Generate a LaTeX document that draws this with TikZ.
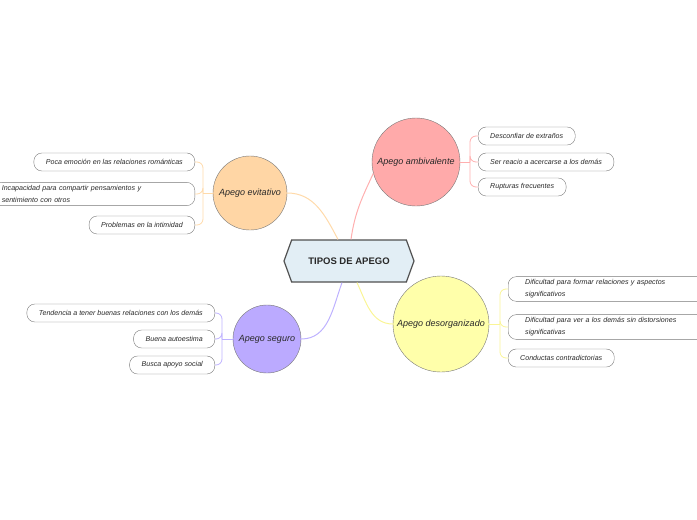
\documentclass[tikz,border=0pt]{standalone}
\usepackage{fontspec}
\setmainfont{Liberation Sans}
\usepackage{tikz}
\usetikzlibrary{shapes.symbols, calc}
\definecolor{hexfill}{RGB}{226, 238, 245}
\definecolor{hexdraw}{RGB}{80, 80, 80}
\definecolor{evfill}{RGB}{255, 214, 165}
\definecolor{evline}{RGB}{255, 218, 170}
\definecolor{amfill}{RGB}{255, 170, 170}
\definecolor{amline}{RGB}{255, 175, 175}
\definecolor{defill}{RGB}{255, 255, 170}
\definecolor{deline}{RGB}{250, 245, 150}
\definecolor{sefill}{RGB}{187, 170, 255}
\definecolor{seline}{RGB}{190, 178, 255}
\definecolor{leafgray}{RGB}{120, 120, 120}
\definecolor{txt}{RGB}{40, 40, 40}

\begin{document}
\begin{tikzpicture}[x=1pt, y=1pt,
  leaf/.style={draw=leafgray, rounded corners=8pt, minimum height=18pt,
    inner xsep=12pt, inner ysep=3pt, text=txt,
    font=\fontsize{7.1}{12}\selectfont\itshape},
  topic/.style={circle, draw=leafgray, text=txt, inner sep=0pt,
    font=\fontsize{9}{10}\selectfont\itshape},
  branch/.style={line width=1pt},
  twig/.style={line width=0.8pt, rounded corners=6pt}]
  \useasboundingbox (0,0) rectangle (697,-520);
  % Central topic
  \node[signal, signal to=west and east, signal pointer angle=140,
    draw=hexdraw, fill=hexfill, line width=1.2pt, text=txt,
    minimum width=130pt, minimum height=42pt,
    font=\fontsize{9.5}{11}\selectfont\bfseries]
    (title) at (349,-261) {TIPOS DE APEGO};
  % Main topics
  \node[topic, fill=evfill, minimum size=74pt] (evit) at (250,-193) {Apego evitativo};
  \node[topic, fill=amfill, minimum size=88pt] (amb) at (416,-162) {Apego ambivalente};
  \node[topic, fill=defill, minimum size=96pt] (deso) at (441,-324) {Apego desorganizado};
  \node[topic, fill=sefill, minimum size=68pt] (seg) at (267,-339) {Apego seguro};
  % Branches
  \draw[branch, evline] ($(title.north)+(-11,0)$) to[out=118, in=0] (evit.east);
  \draw[branch, amline] ($(title.north)+(2,0)$) to[out=82, in=-115] (amb.195);
  \draw[branch, deline] ($(title.south)+(8,0)$) to[out=-65, in=180] (deso.west);
  \draw[branch, seline] ($(title.south)+(-7,0)$) to[out=-110, in=0] (seg.east);
  % Apego evitativo
  \node[leaf, anchor=east] (ev1) at (195,-162) {Poca emoción en las relaciones románticas};
  \node[leaf, anchor=east, text width=185pt, inner xsep=8pt, align=left] (ev2) at (195,-194)
    {Incapacidad para compartir pensamientos y\\sentimiento con otros};
  \node[leaf, anchor=east] (ev3) at (195,-225) {Problemas en la intimidad};
  \coordinate (evbr) at (203,-193);
  \draw[twig, evline] (evit.west) -- (evbr);
  \foreach \i in {1,2,3} \draw[twig, evline] (evbr) |- (ev\i.east);
  % Apego ambivalente
  \node[leaf, anchor=west] (am1) at (478,-136) {Desconfiar de extraños};
  \node[leaf, anchor=west] (am2) at (478,-162) {Ser reacio a acercarse a los demás};
  \node[leaf, anchor=west] (am3) at (478,-187) {Rupturas frecuentes};
  \coordinate (ambr) at (470,-162);
  \draw[twig, amline] (amb.east) -- (ambr);
  \foreach \i in {1,2,3} \draw[twig, amline] (ambr) |- (am\i.west);
  % Apego desorganizado
  \node[leaf, anchor=west, text width=175pt, inner xsep=17pt, align=left] (de1) at (508,-289)
    {Dificultad para formar relaciones y aspectos\\significativos};
  \node[leaf, anchor=west, text width=175pt, inner xsep=17pt, align=left] (de2) at (508,-327)
    {Dificultad para ver a los demás sin distorsiones\\significativas};
  \node[leaf, anchor=west] (de3) at (508,-358) {Conductas contradictorias};
  \coordinate (debr) at (500,-324);
  \draw[twig, deline] (deso.east) -- (debr);
  \foreach \i in {1,2,3} \draw[twig, deline] (debr) |- (de\i.west);
  % Apego seguro
  \node[leaf, anchor=east] (se1) at (215,-313) {Tendencia a tener buenas relaciones con los demás};
  \node[leaf, anchor=east] (se2) at (215,-339) {Buena autoestima};
  \node[leaf, anchor=east] (se3) at (215,-365) {Busca apoyo social};
  \coordinate (sebr) at (222,-339);
  \draw[twig, seline] (seg.west) -- (sebr);
  \foreach \i in {1,2,3} \draw[twig, seline] (sebr) |- (se\i.east);
\end{tikzpicture}
\end{document}
